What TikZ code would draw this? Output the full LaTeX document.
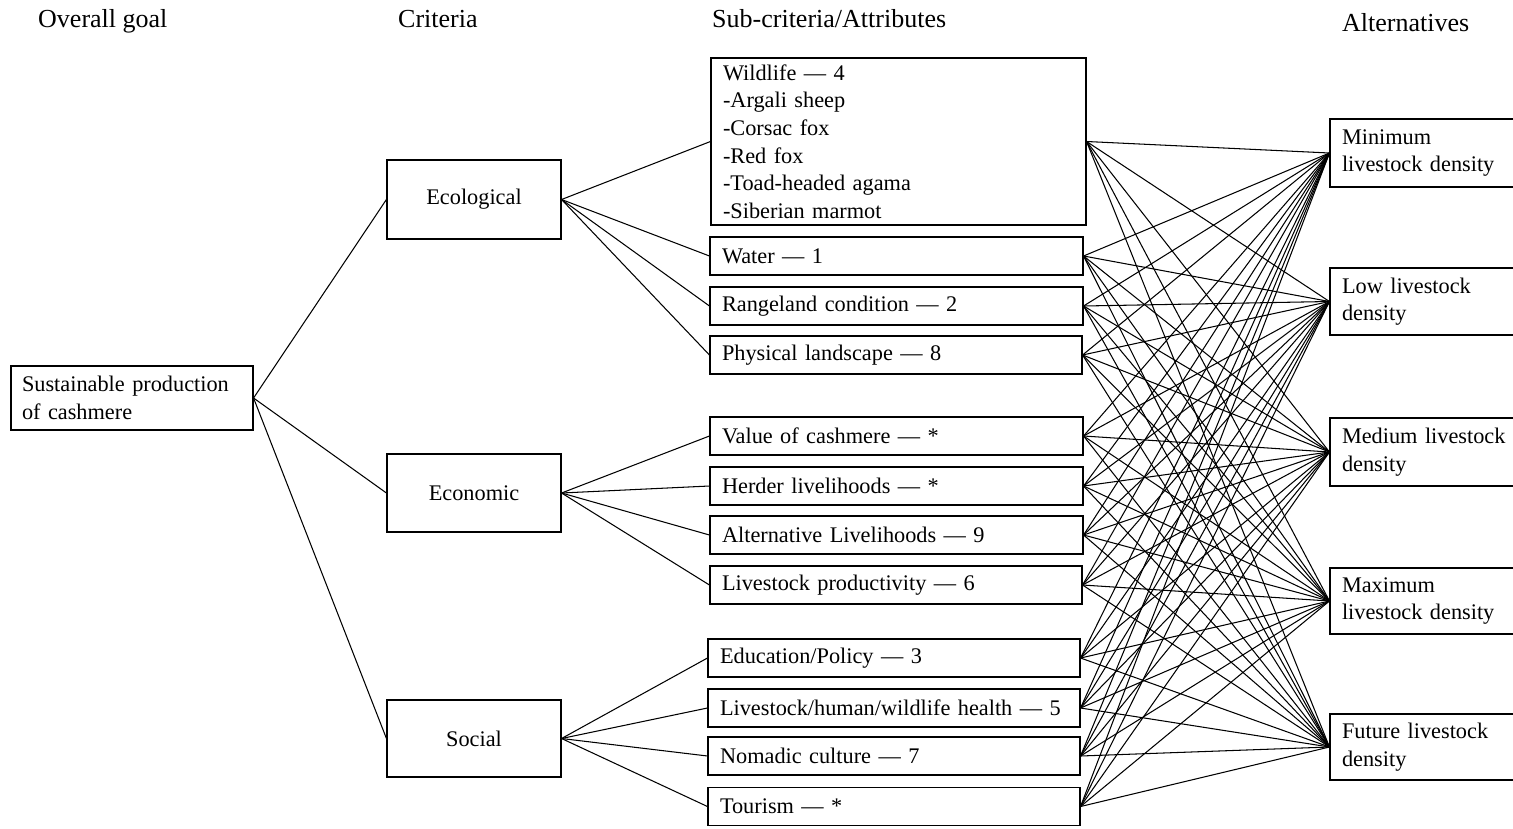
\documentclass[tikz,border=0pt]{standalone}
\usepackage{fontspec}
\setmainfont{Liberation Serif}
\newcommand\bxfont{\fontsize{22.3}{27.6}\selectfont\hyphenpenalty=10000\relax}
\begin{document}
\begin{tikzpicture}[x=1pt,y=-1pt,
  box/.style={draw, line width=1.1pt, inner xsep=12pt, inner ysep=2pt, align=left,
    font=\bxfont},
  crit/.style={draw, line width=1.1pt, minimum width=174pt, align=center,
    font=\bxfont},
  hdr/.style={anchor=base west, inner sep=0pt, font=\fontsize{26}{31}\selectfont},
  link/.style={line width=1.05pt}]
\useasboundingbox (0,0) rectangle (1513,828);
% headers
\node[hdr] (h1) at (38,27) {Overall goal};
\node[hdr] (h2) at (398,27) {Criteria};
\node[hdr] (h3) at (712,27) {Sub-criteria/Attributes};
\node[hdr] (h4) at (1342,31) {Alternatives};
% goal
\node[box, inner xsep=11pt, text width=220pt, minimum height=64pt] (goal) at (132,398) {Sustainable production\\of cashmere};
% criteria
\node[crit, minimum height=79pt] (eco) at (474,199.5) {Ecological};
\node[crit, minimum height=78pt] (econ) at (474,493) {Economic};
\node[crit, minimum height=77pt] (soc) at (474,738.5) {Social};
% sub-criteria
\node[box, text width=351pt, minimum height=167pt] (wild) at (898.5,141.5) {Wildlife — 4\\-Argali sheep\\-Corsac fox\\-Red fox\\-Toad-headed agama\\-Siberian marmot};
\node[box, text width=349pt, minimum height=38pt] (water) at (896.5,256) {Water — 1};
\node[box, text width=349pt, minimum height=38pt] (range) at (896.5,306) {Rangeland condition — 2};
\node[box, text width=348pt, minimum height=38pt] (phys) at (896,355) {Physical landscape — 8};
\node[box, text width=349pt, minimum height=38pt] (value) at (896.5,436) {Value of cashmere — *};
\node[box, text width=349pt, minimum height=38pt] (herder) at (896.5,486) {Herder livelihoods — *};
\node[box, text width=349pt, minimum height=38pt] (altliv) at (896.5,535) {Alternative Livelihoods — 9};
\node[box, text width=348pt, minimum height=38pt] (prod) at (896,585) {Livestock productivity — 6};
\node[box, text width=348pt, minimum height=38pt] (edu) at (894,658) {Education/Policy — 3};
\node[box, text width=348pt, minimum height=38pt] (health) at (894,708) {Livestock/human/wildlife health — 5};
\node[box, text width=348pt, minimum height=38pt] (nomad) at (894,756) {Nomadic culture — 7};
\node[box, text width=348pt, minimum height=38pt] (tour) at (894,806.5) {Tourism — *};
% alternatives (right side runs past the page edge, as in the reference)
\node[box, text width=180pt, minimum height=68pt] (amin) at (1432,153) {Minimum\\livestock density};
\node[box, text width=180pt, minimum height=67pt] (alow) at (1432,301.5) {Low livestock\\density};
\node[box, text width=180pt, minimum height=68pt] (amed) at (1432,452) {Medium livestock\\density};
\node[box, text width=180pt, minimum height=66pt] (amax) at (1432,601) {Maximum\\livestock density};
\node[box, text width=180pt, minimum height=66pt] (afut) at (1432,747) {Future livestock\\density};
% connectors
\foreach \c in {eco,econ,soc} \draw[link] (goal.east) -- (\c.west);
\foreach \s in {wild,water,range,phys} \draw[link] (eco.east) -- (\s.west);
\foreach \s in {value,herder,altliv,prod} \draw[link] (econ.east) -- (\s.west);
\foreach \s in {edu,health,nomad,tour} \draw[link] (soc.east) -- (\s.west);
\foreach \s in {wild,water,range,phys,value,herder,altliv,prod,edu,health,nomad,tour}
  \foreach \a in {amin,alow,amed,amax,afut}
    \draw[link] (\s.east) -- (\a.west);
\end{tikzpicture}
\end{document}
